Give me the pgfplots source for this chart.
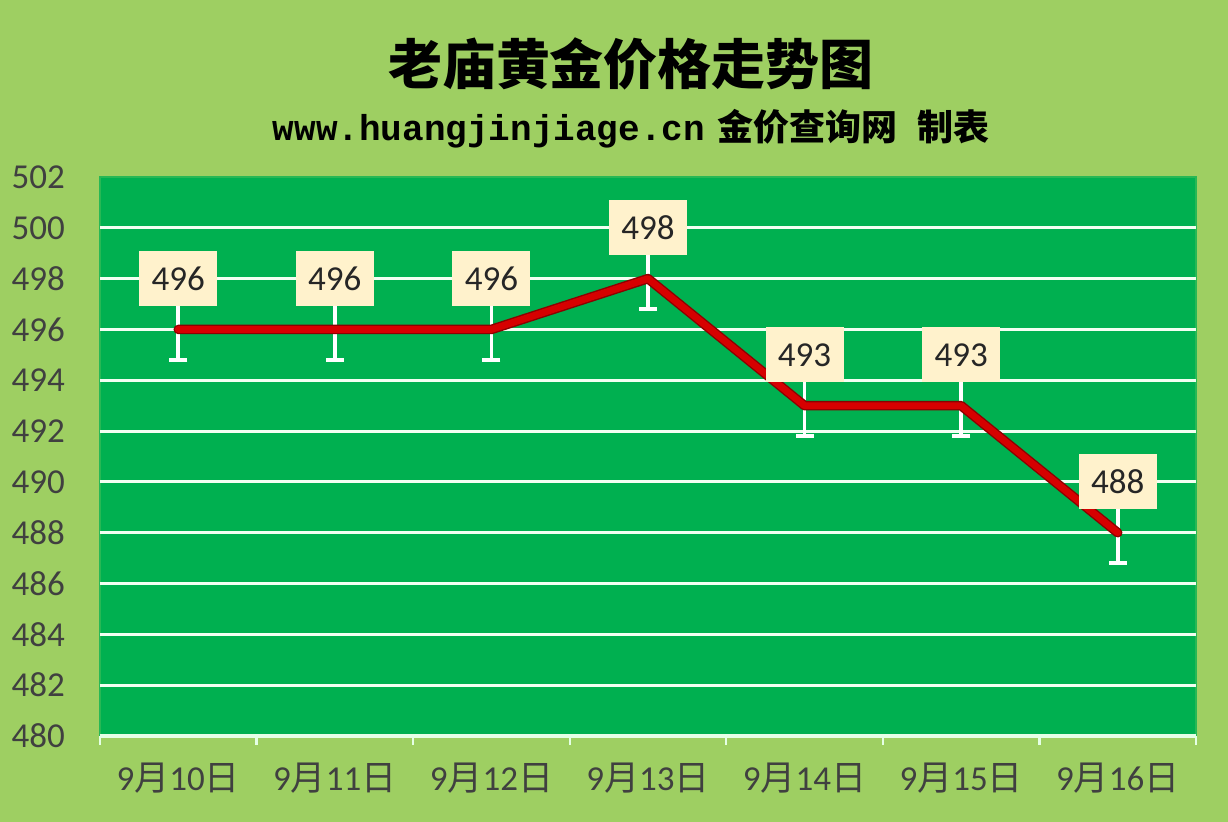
\documentclass[border=0pt]{standalone}
\usepackage{pgfplots}
\pgfplotsset{compat=1.18}
\usepackage{pgfplotstable}
\usepackage{fontspec}
\setmainfont{Carlito}
\newfontfamily\cjk{Noto Sans CJK SC}
\newfontfamily\mono{Liberation Mono}

\definecolor{bggreen}{RGB}{158,207,98}
\definecolor{plotgreen}{RGB}{0,176,80}
\definecolor{cream}{RGB}{255,242,204}
\definecolor{linered}{RGB}{214,0,0}
\definecolor{darkred}{RGB}{140,0,0}
\definecolor{txtgray}{RGB}{64,64,64}

\pgfplotstableread{
x v
0 496
1 496
2 496
3 498
4 493
5 493
6 488
}\gold

\begin{document}
\begin{tikzpicture}
\fill[bggreen] (-50pt,-43pt) rectangle (564pt,368pt);
\useasboundingbox (-50pt,-43pt) rectangle (564pt,368pt);
\node[font=\cjk\bfseries\fontsize{27}{27}\selectfont] at (265.5pt,336pt) {老庙黄金价格走势图};
\node[font=\fontsize{18}{18}\selectfont] at (265.5pt,303.5pt)
  {{\mono\bfseries www.huangjinjiage.cn}\hspace{6pt}{\cjk\bfseries 金价查询网\hspace{10pt}制表}};
\begin{axis}[
    at={(0,0)}, anchor=south west,
    scale only axis,
    width=548pt, height=279.5pt,
    xmin=-0.5, xmax=6.5,
    ymin=480, ymax=502,
    axis background/.style={fill=plotgreen, draw=plotgreen!75!bggreen, line width=0.8pt},
    axis x line*=bottom,
    axis y line*=left,
    x axis line style={-, draw=white!90!green, line width=1.6pt},
    y axis line style={draw=none},
    xtick={0,...,6},
    xticklabels={9{\cjk 月}10{\cjk 日}, 9{\cjk 月}11{\cjk 日}, 9{\cjk 月}12{\cjk 日},
                 9{\cjk 月}13{\cjk 日}, 9{\cjk 月}14{\cjk 日}, 9{\cjk 月}15{\cjk 日},
                 9{\cjk 月}16{\cjk 日}},
    minor xtick={-0.5,0.5,...,6.5},
    tick align=outside,
    major tick length=0pt,
    minor tick length=4.5pt,
    minor tick style={draw=white!90!green, line width=1.2pt},
    ytick={480,482,...,502},
    ytick style={draw=none},
    extra y ticks={482,484,...,500},
    extra y tick labels={},
    extra y tick style={grid=major},
    major grid style={draw=white!95!green, line width=1.5pt},
    /pgf/number format/assume math mode=true,
    ticklabel style={font=\fontsize{17.5}{17.5}\selectfont, text=txtgray},
    yticklabel style={anchor=east, xshift=-14pt},
    xticklabel style={anchor=north, yshift=-10pt},
    clip=false,
]
\addplot[draw=none, mark=none, forget plot,
    error bars/.cd, y dir=both, y explicit,
    error bar style={draw=white, line width=1.8pt},
    error mark options={rotate=90, draw=white, line width=1.8pt, mark size=4.5pt}]
    table[x=x, y=v, y error plus expr=1, y error minus expr=1.2] {\gold};
\addplot[draw=darkred, line width=4.8pt, mark=none, line join=round, line cap=round]
    table[x=x, y=v] {\gold};
\addplot[draw=linered, line width=3.4pt, mark=none, line join=round, line cap=round]
    table[x=x, y=v] {\gold};
\addplot[draw=none, mark=none,
    point meta=explicit symbolic,
    nodes near coords,
    nodes near coords style={anchor=center, fill=cream, text=black!85,
        minimum width=39pt, minimum height=27.5pt, inner sep=0pt,
        font=\fontsize{17.5}{17.5}\selectfont}]
    table[x=x, y expr=\thisrow{v}+2, meta=v] {\gold};
\end{axis}
\end{tikzpicture}
\end{document}
